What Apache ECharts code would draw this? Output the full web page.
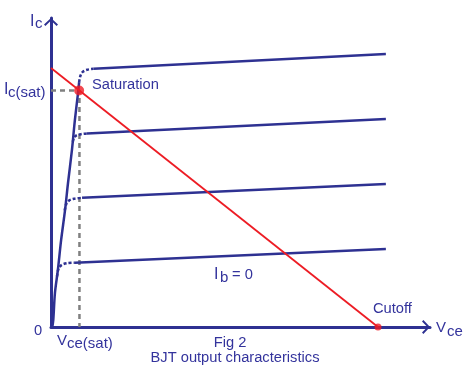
<!DOCTYPE html>
<html>
<head>
<meta charset="utf-8">
<script src="https://cdn.jsdelivr.net/npm/echarts@6/dist/echarts.min.js"></script>
<style>
  html, body { margin: 0; padding: 0; background: #fff; }
  #chart { width: 471px; height: 388px; }
</style>
</head>
<body>
<div id="chart"></div>
<script>
// ---- Data (Vce and Ic in arbitrary units) ----
// shared steep rise from the origin
const rise = [[0.04,0],[0.07,0.27],[0.12,1.31],[0.21,2.2],[0.31,3.36],[0.43,4.52],[0.52,5.56],[0.64,6.83],[0.73,7.99],[0.83,9.07],[0.86,9.45]];
// knee (dotted) and flat (solid) part of each Ib curve
const knee0 = [[0.185,1.95],[0.23,2.25],[0.32,2.39],[0.48,2.46],[0.73,2.48]];
const flat0 = [[0.73,2.48],[10.24,3.01]];
const knee1 = [[0.42,4.5],[0.47,4.76],[0.55,4.88],[0.7,4.95],[0.95,4.99]];
const flat1 = [[0.95,4.99],[10.24,5.52]];
const knee2 = [[0.665,7.15],[0.72,7.33],[0.8,7.41],[0.95,7.45],[1.1,7.47]];
const flat2 = [[1.1,7.47],[10.24,8.03]];
const knee3 = [[0.86,9.45],[0.9,9.7],[0.97,9.85],[1.1,9.93],[1.3,9.97]];
const flat3 = [[1.3,9.97],[10.24,10.54]];
const loadLine = [[0,10],[10,0]];
const satPoint = [[0.86,9.13]];
const cutoffPoint = [[10,0]];
const satGuide = [[0,9.13],[0.87,9.13],[0.87,0]];
const xMax = 11.59, yMax = 11.93;

const BLUE = '#2e3192';
const TXT = '#33339c';
const RED = '#ed1c24';
const FONT = 'Liberation Sans, Arial, sans-serif';

function txt(str, x, baseline, fs, align) {
  return {
    type: 'text', x: x, y: baseline - 0.35 * fs, z: 100,
    style: { text: str, fill: TXT, font: fs + 'px ' + FONT, align: align || 'left', verticalAlign: 'middle' }
  };
}

const chev = 'path://M0,66 L70,0 L140,66 L126,80 L70,26 L14,80 Z';
const axisLine = {
  show: true,
  lineStyle: { color: BLUE, width: 3 },
  symbol: ['none', chev],
  symbolSize: [14, 8],
  symbolOffset: [0, -4]
};

const chart = echarts.init(document.getElementById('chart'), null, { renderer: 'canvas' });
function solid(d, smooth) {
  return { type: 'line', data: d, showSymbol: false, smooth: smooth || false, lineStyle: { color: BLUE, width: 2.5 }, z: 3, silent: true };
}
function dotted(d) {
  return { type: 'line', data: d, showSymbol: false, smooth: 0.35, lineStyle: { color: BLUE, width: 2.5, type: [3, 2] }, z: 3, silent: true };
}
chart.setOption({
  animation: false,
  backgroundColor: '#fff',
  grid: { left: 51, right: 41, top: 18, bottom: 61 },
  xAxis: { type: 'value', min: 0, max: xMax, axisLine: axisLine, axisTick: { show: false }, axisLabel: { show: false }, splitLine: { show: false } },
  yAxis: { type: 'value', min: 0, max: yMax, axisLine: axisLine, axisTick: { show: false }, axisLabel: { show: false }, splitLine: { show: false } },
  series: [
    { type: 'line', data: satGuide, showSymbol: false, lineStyle: { color: '#808080', width: 2.5, type: [5, 4] }, z: 2 },
    solid(rise, 0.3),
    dotted(knee0), solid(flat0),
    dotted(knee1), solid(flat1),
    dotted(knee2), solid(flat2),
    dotted(knee3), solid(flat3),
    { type: 'line', data: loadLine, showSymbol: false, lineStyle: { color: RED, width: 1.8 }, z: 5 },
    { type: 'scatter', data: satPoint, symbolSize: 10, itemStyle: { color: RED }, z: 6 },
    { type: 'scatter', data: cutoffPoint, symbolSize: 7, itemStyle: { color: RED }, z: 6 }
  ],
  graphic: [
    txt('I', 30, 27, 16), txt('c', 35, 29, 15),
    txt('I', 4, 95, 16), txt('c(sat)', 8, 98, 15),
    txt('Saturation', 92, 90.5, 14.7),
    txt('V', 436, 333, 15), txt('ce', 447, 337, 15),
    txt('0', 34, 336, 14.7),
    txt('V', 57, 346, 15), txt('ce(sat)', 67, 349, 15),
    txt('Fig 2', 230, 348, 14.7, 'center'),
    txt('BJT output characteristics', 235, 363, 14.7, 'center'),
    txt('I', 214, 280, 16), txt('b', 220, 283, 15), txt('= 0', 232, 280, 14.7),
    txt('Cutoff', 373, 314, 14.7)
  ]
});
</script>
</body>
</html>
